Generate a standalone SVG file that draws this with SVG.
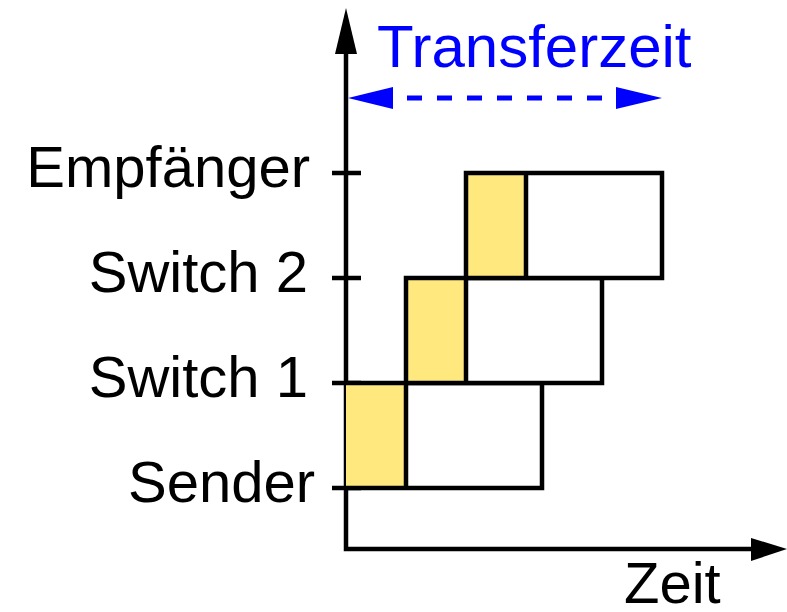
<svg xmlns="http://www.w3.org/2000/svg" width="787" height="612" viewBox="0 0 787 612">
<style>
.lbl{font-family:"Liberation Sans",Arial,sans-serif;font-size:58px;fill:#000}
.ax{stroke:#000;stroke-width:4.5;fill:none}
.box{stroke:#000;stroke-width:4.5}
.y{fill:#ffe97f}
.w{fill:#fff}
</style>
<rect width="787" height="612" fill="#fff"/>
<g id="axes">
<path class="ax" d="M346,50 V549 H755"/>
<polygon points="346,8 335,54 357,54" fill="#000"/>
<polygon points="787,549 751,538 751,561" fill="#000"/>
<path class="ax" d="M332,173 H361 M332,278 H361 M332,383 H361 M332,488 H361"/>
</g>
<g id="sender">
<rect class="y" x="346" y="383" width="60" height="105"/>
<rect class="w" x="406" y="383" width="136" height="105"/>
<path class="box" fill="none" d="M346,383 H542 V488 H346 M406,383 V488"/>
</g>
<g id="switch1">
<rect class="y" x="406" y="278" width="60" height="105"/>
<rect class="w" x="466" y="278" width="136" height="105"/>
<path class="box" fill="none" d="M406,383 V278 H602 V383 H406 M466,278 V383"/>
</g>
<g id="switch2">
<rect class="y" x="466" y="173" width="60" height="105"/>
<rect class="w" x="526" y="173" width="136" height="105"/>
<path class="box" fill="none" d="M466,278 V173 H662 V278 H466 M526,173 V278"/>
</g>
<g id="labels">
<text class="lbl" x="310" y="187" text-anchor="end">Empfänger</text>
<text class="lbl" x="308" y="292" text-anchor="end">Switch 2</text>
<text class="lbl" x="308" y="397" text-anchor="end">Switch 1</text>
<text class="lbl" x="315" y="502" text-anchor="end">Sender</text>
<text class="lbl" x="624" y="603">Zeit</text>
</g>
<g id="transfer">
<line x1="407" y1="98" x2="602" y2="98" stroke="#00f" stroke-width="5" stroke-dasharray="15 15"/>
<polygon points="348,98 393,87 393,109" fill="#00f"/>
<polygon points="662,98 616,87 616,109" fill="#00f"/>
<text class="lbl" x="377" y="67" style="fill:#00f;font-size:60px">Transferzeit</text>
</g>
</svg>
